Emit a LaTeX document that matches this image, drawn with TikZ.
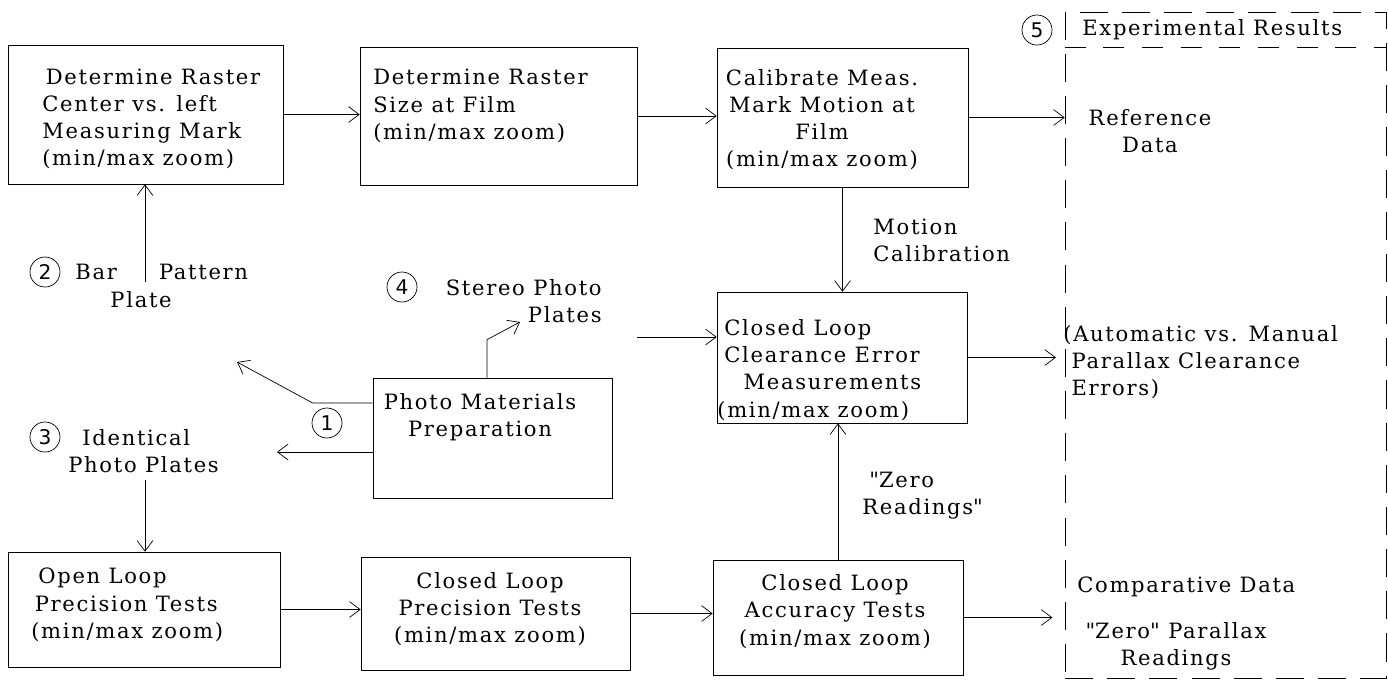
\documentclass[tikz,border=0pt]{standalone}
\usepackage{fontspec}
\setmainfont{DejaVu Serif}[LetterSpace=8]
\setsansfont{DejaVu Sans}
\usetikzlibrary{arrows.meta}

\begin{document}
\begin{tikzpicture}[x=0.02cm, y=-0.02cm,
    >={Straight Barb[length=6pt,width=9pt]},
    arr/.style={->, thin},
    box/.style={draw, thin, inner sep=0pt},
    txt/.style={inner sep=0pt, font=\fontsize{12}{15.5}\selectfont},
    num/.style={circle, draw, thin, inner sep=0pt, minimum size=0.6cm, font=\sffamily\fontsize{11.5}{12}\selectfont},
    frame/.style={draw, thin, dash pattern=on 16pt off 8pt, inner sep=0pt}]
      \useasboundingbox (0,0) rectangle (1388,681);

      % boxes
      \node[box, minimum width=5.5cm, minimum height=2.78cm] (raster) at (145.5,114.5) {};
      \node[box, minimum width=5.54cm, minimum height=2.76cm] (size) at (498.5,116) {};
      \node[box, minimum width=5.02cm, minimum height=2.78cm] (calib) at (842.5,117.5) {};
      \node[box, minimum width=5cm, minimum height=2.62cm] (clear) at (842,357.5) {};
      \node[box, minimum width=4.78cm, minimum height=2.4cm] (prep) at (492.5,438) {};
      \node[box, minimum width=5.44cm, minimum height=2.3cm] (openl) at (144,609.5) {};
      \node[box, minimum width=5.38cm, minimum height=2.26cm] (closedp) at (495.5,613.5) {};
      \node[box, minimum width=5cm, minimum height=2.3cm] (accur) at (838,617.5) {};
      \node[frame, minimum width=6.42cm, minimum height=13.32cm] (results) at (1225.5,345) {};
      \draw[thin, dash pattern=on 12pt off 10pt] ([yshift=-0.72cm]results.north west) -- ([yshift=-0.72cm]results.north east);

      \node[txt, anchor=west, align=left] (rastertxt) at (42,119) {\hspace*{2pt}Determine Raster\\Center vs. left\\Measuring Mark\\(min/max zoom)};
      \node[txt, anchor=west, align=left] (sizetxt) at (373,106) {Determine Raster\\Size at Film\\(min/max zoom)};
      \node[txt, align=center] (calibtxt) at (822,119.5) {Calibrate Meas.\\Mark Motion at\\Film\\(min/max zoom)};
      \node[txt, anchor=west, align=left] (cleartxt) at (717,370) {\hspace*{4pt}Closed Loop\\\hspace*{4pt}Clearance Error\\\hspace*{15pt}Measurements\\(min/max zoom)};
      \node[txt, align=center] (preptxt) at (480,417.5) {Photo Materials\\Preparation};
      \node[txt, anchor=west, align=left] (opentxt) at (31,605) {\hspace*{4pt}Open Loop\\\hspace*{2pt}Precision Tests\\(min/max zoom)};
      \node[txt, align=center] (closedptxt) at (490,609) {Closed Loop\\Precision Tests\\(min/max zoom)};
      \node[txt, align=center] (accurtxt) at (835,611.5) {Closed Loop\\Accuracy Tests\\(min/max zoom)};

      % results column
      \node[txt, anchor=west] (restitle) at (1082,30) {Experimental Results};
      \node[txt, align=center] (refdata) at (1150,131) {Reference\\Data};
      \node[txt, anchor=west, align=left] (errs) at (1063,362) {(Automatic vs. Manual\\\phantom{(}Parallax Clearance\\\phantom{(}Errors)};
      \node[txt, anchor=west] (compdata) at (1077,587) {Comparative Data};
      \node[txt, align=center] (zeropar) at (1176,646.5) {\textquotedbl Zero\textquotedbl{} Parallax\\Readings};

      % plates
      \node[txt, anchor=west, align=left] (bar) at (75,286) {Bar\hspace{24pt}Pattern\\\hspace*{20pt}Plate};
      \node[txt, anchor=west, align=left] (ident) at (68,451) {\hspace*{8pt}Identical\\Photo Plates};
      \node[txt, anchor=east, align=right] (stereo) at (602,301) {Stereo Photo\\Plates};
      \node[txt, anchor=west, align=left] (motion) at (873,240) {Motion\\Calibration};
      \node[txt, anchor=west, align=left] (zeroread) at (862,496) {\hspace*{4pt}\textquotedbl Zero\\Readings\textquotedbl};

      \node[num] (n1) at (327,423) {1};
      \node[num] (n2) at (45,272) {2};
      \node[num] (n3) at (45,437) {3};
      \node[num] (n4) at (402,287) {4};
      \node[num] (n5) at (1037,30) {5};

      \coordinate (barfoot) at (145,282);
      \coordinate (identfoot) at (145,480);
      \coordinate (barin) at (237,362);
      \coordinate (identin) at (277,452);
      \coordinate (stereoin) at (520,322);
      \coordinate (platesout) at (637,337);

      % arrows
      \draw[arr] (raster.east) -- (raster.east -| size.west);
      \draw[arr] (size.east) -- (size.east -| calib.west);
      \draw[arr] (calib.east) -- (calib.east -| results.west);
      \draw[arr, shorten >=5pt] (clear.east) -- (clear.east -| results.west);
      \draw[arr, shorten >=7pt] (accur.east) -- (accur.east -| results.west);
      \draw[arr] (calib.south) -- (calib.south |- clear.north);
      \draw[arr] (accur.north) -- (accur.north |- clear.south);
      \draw[arr] (openl.east) -- (openl.east -| closedp.west);
      \draw[arr] (closedp.east) -- (closedp.east -| accur.west);
      \draw[arr] (barfoot) -- (barfoot |- raster.south);
      \draw[arr] (identfoot) -- (identfoot |- openl.north);
      \draw[arr] (prep.west |- 0,403) -- ++(-60,0) -- (barin);
      \draw[arr] (prep.west |- 0,452) -- (identin);
      \draw[arr] (prep.north -| 487,0) -- ++(0,-38) -- (stereoin);
      \draw[arr] (platesout) -- (platesout -| clear.west);
\end{tikzpicture}
\end{document}
